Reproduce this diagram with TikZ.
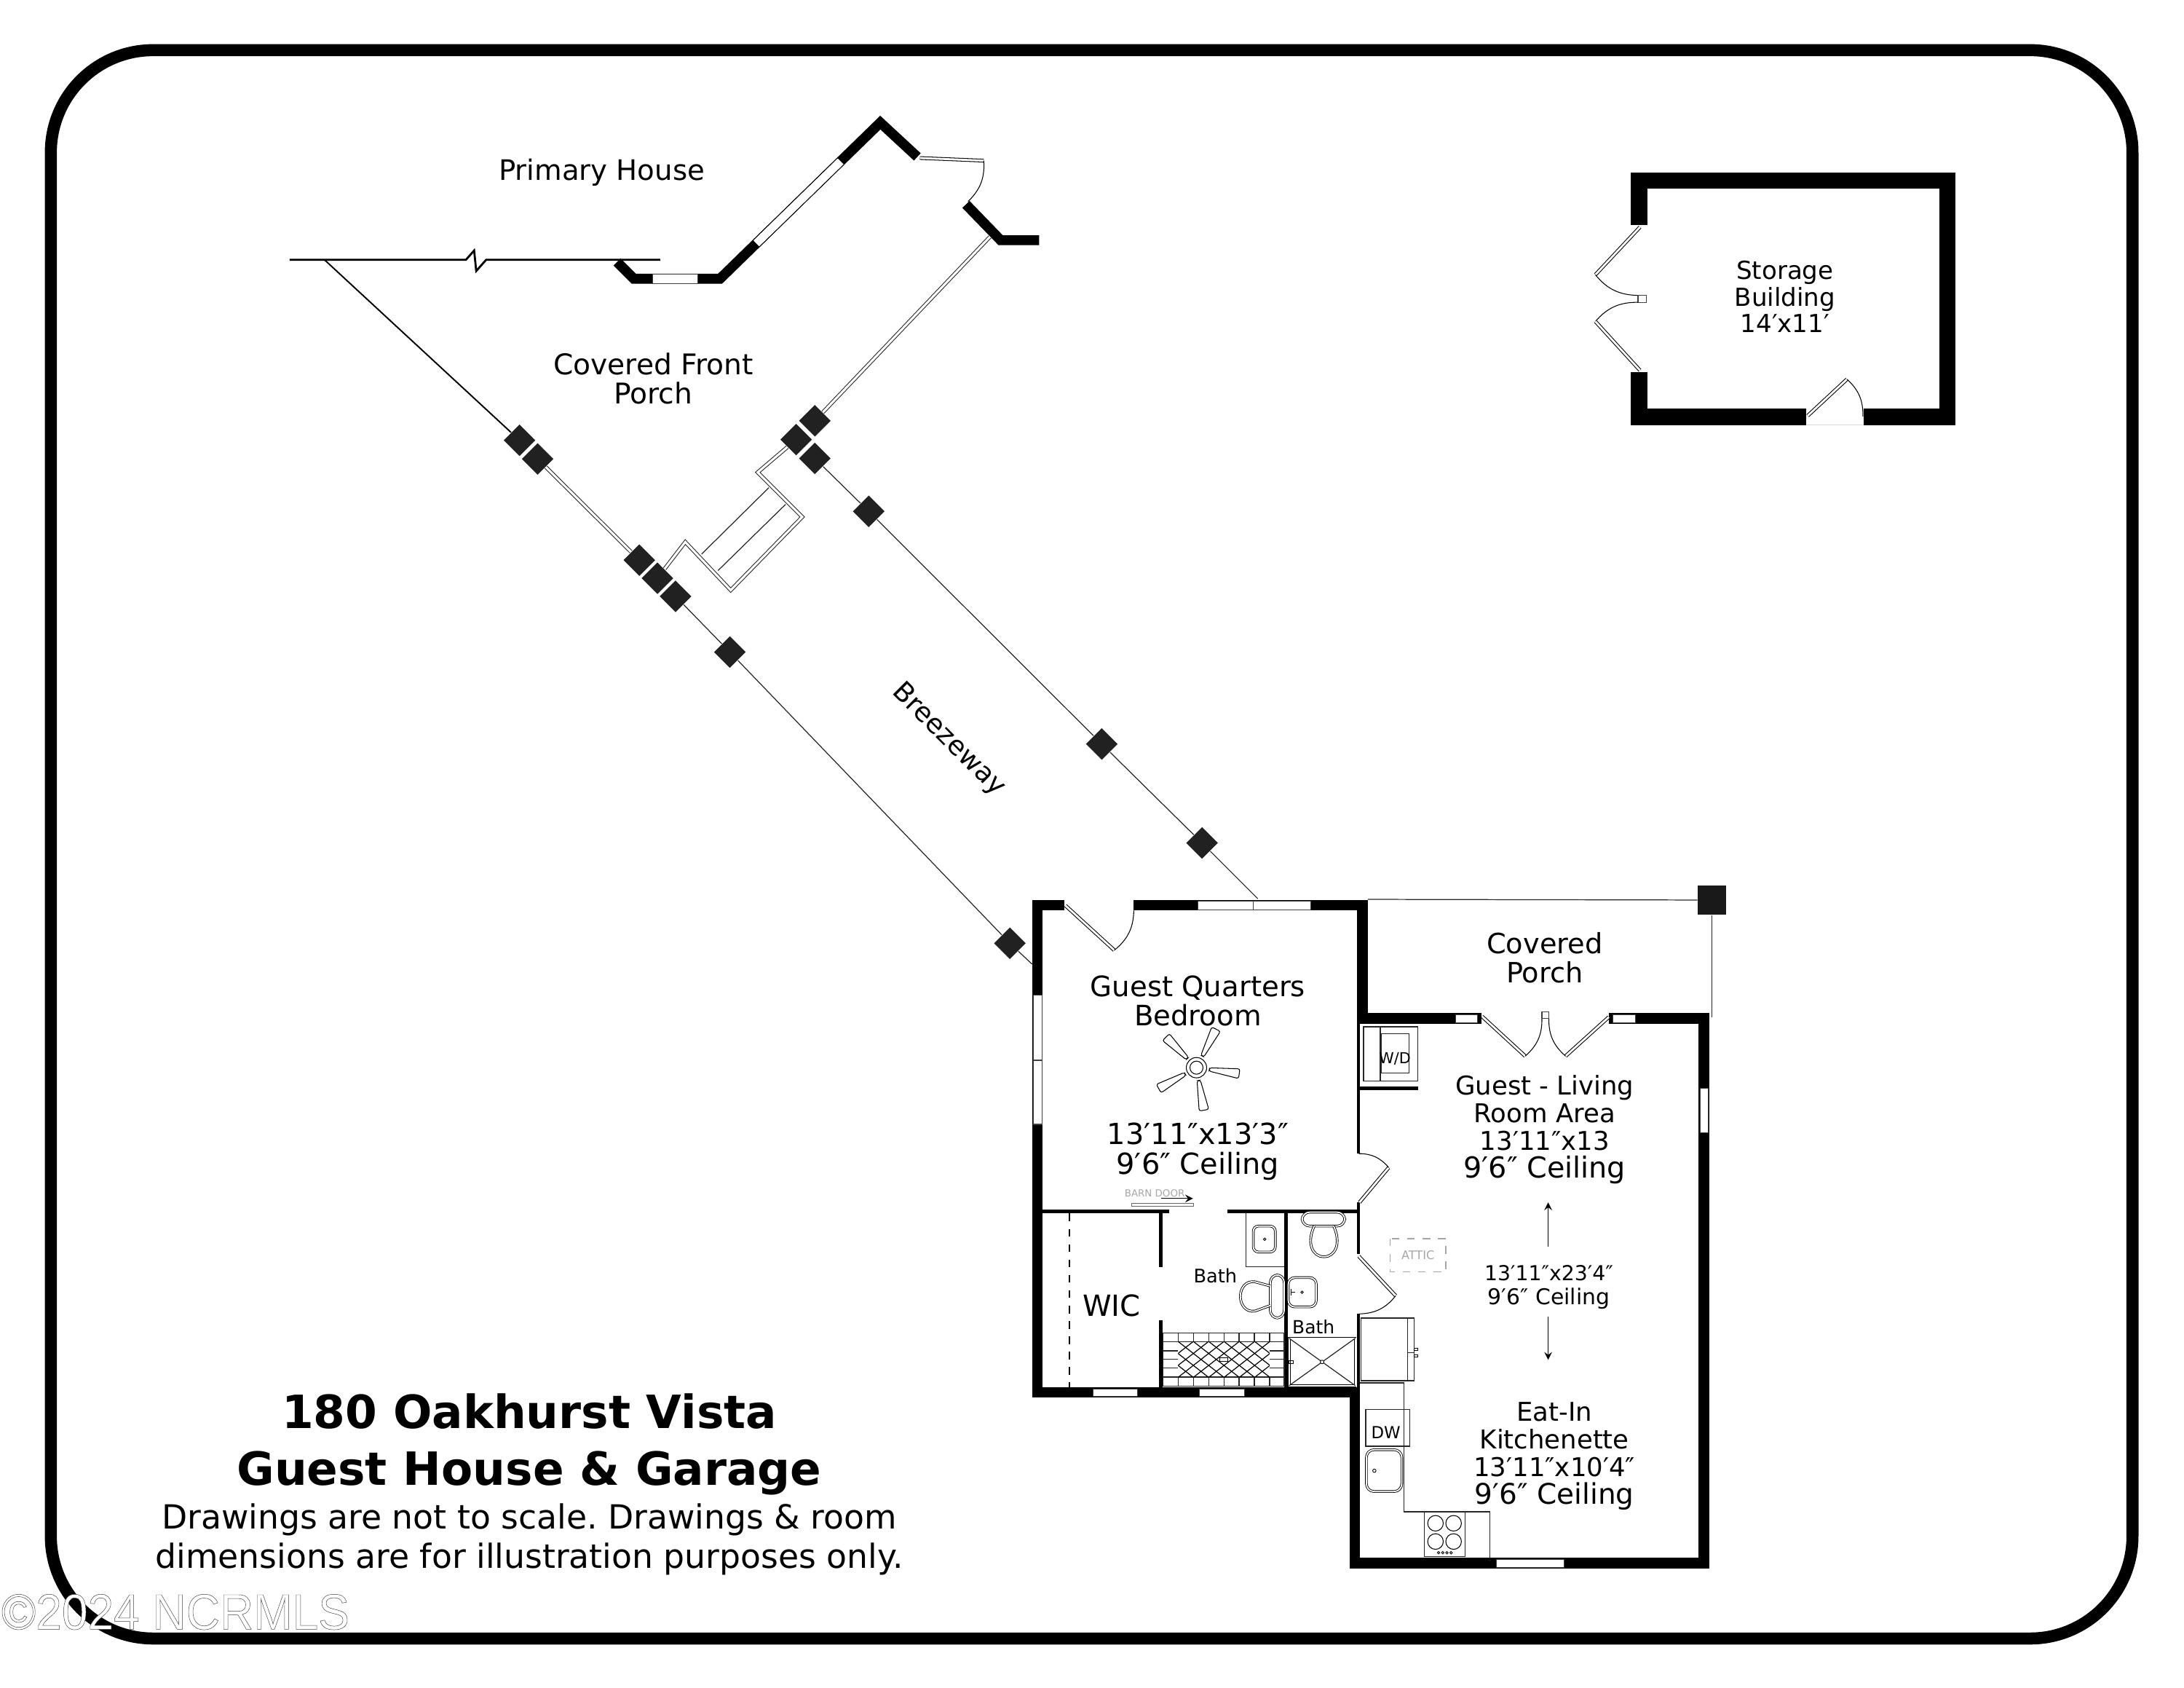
\documentclass[tikz,border=0pt]{standalone}
\usepackage{fontspec}
\setmainfont{DejaVu Sans}
\usetikzlibrary{shapes.geometric,arrows}
\newcommand{\fsz}[2]{\fontsize{#1}{#2}\selectfont}
\newcommand{\outlined}[1]{\textcolor{white}{\special{pdf:code 2 Tr 0.14 w 0.25 G}#1\special{pdf:code 0 Tr}}}
\newfontfamily\markfont{Liberation Sans}
\frenchspacing
\tikzset{
	wall/.style = {fill=black},
	win/.style = {draw=black!75, fill=white, line width=.3pt},
	wline/.style = {draw=black, double=white, line width=.3pt, double distance=3.2pt},
	leaf/.style = {draw=black, double=white, line width=.3pt, double distance=.8pt},
	swing/.style = {draw=black, line width=.3pt},
	rail/.style = {draw=black!85, double=white, line width=.3pt, double distance=.9pt},
	thinline/.style = {draw=black!85, line width=.35pt},
	fixture/.style = {draw=black, double=white, line width=.25pt, double distance=.5pt},
	post/.style = {diamond, fill=black!87, inner sep=0pt, minimum size=12.5pt},
	room/.style = {align=center, inner sep=0pt, font=\fsz{11}{11.4}},
}
\begin{document}
\begin{tikzpicture}[x=0.019133cm, y=-0.019133cm]
\useasboundingbox (0,0) rectangle (1568,1211.5);
\draw[line width=4.7pt, rounded corners=40pt] (36.5,36) rectangle (1531,1176);

% primary house and front porch
\coordinate (top start) at (208,186.5);
\coordinate (top end)   at (474,186.5);
\coordinate (porch l)   at (233,186.5);
\coordinate (wall r)    at (710.7,170);
\draw[line width=.8pt] (top start) -- (334.5,186.5) -- (340.4,179.8) -- (341.9,194.5) -- (349,186.5) -- (top end);
\draw[line width=3.9pt, miter limit=20] (443,188) -- (455,200) -- (517,200) -- (632,88) -- (658.6,112.6);
\draw[line width=3.9pt, miter limit=20] (693.5,146.7) -- (718.4,172.4) -- (746,172.4);
\draw[win] (468.5,196.6) rectangle (501,203.4);
\draw[wline] (543,174.7) -- (603.5,115.8);
\draw[leaf] (660.4,113.4) -- (706.3,115.3);
\draw[swing] (706.3,115.3) to[bend left=25] (695,144.6);

\node[post] (pa) at (373,316) {};
\node[post] (pb) at (386,329.4) {};
\node[post] (pc) at (459,402) {};
\node[post] (pd) at (472,415) {};
\node[post] (pe) at (485,428) {};
\node[post] (pf) at (524,468) {};
\node[post] (pg) at (725,677) {};
\node[post] (ph) at (585,302) {};
\node[post] (pi) at (571.6,315.5) {};
\node[post] (pj) at (585,329) {};
\node[post] (pk) at (623.7,367) {};
\node[post] (pl) at (791,534) {};
\node[post] (pm) at (863,605) {};

\draw[line width=.55pt] (porch l) -- (pa);
\draw[rail] (pb) -- (pc);
\draw[rail] (wall r) -- (ph);
\draw[thinline] (pe) -- (pf);
\draw[thinline] (pf) -- (pg);
\draw[thinline] (pg) -- (741,692);
\draw[thinline] (pj) -- (pk);
\draw[thinline] (pk) -- (pl);
\draw[thinline] (pl) -- (pm);
\draw[thinline] (pm) -- (903,645);
% steps off the porch
\draw[rail] (pi) -- (544,339) -- (576,371) -- (524.6,423.6) -- (492,389) -- (pd);
\draw[thinline] (552,350) -- (503.7,397.7);
\draw[thinline] (564,362) -- (515.5,409.5);

% guest house walls
\fill[wall] (741,646) rectangle (748.6,1003);
\fill[wall] (741,646) rectangle (764,653.5);
\fill[wall] (814,646) rectangle (982,653.5);
\fill[wall] (974,646) rectangle (982,735);
\fill[wall] (974,727) rectangle (1063.6,735);
\fill[wall] (1155,727) rectangle (1227,735);
\fill[wall] (1219.6,727) rectangle (1227,1126);
\fill[wall] (969,1118) rectangle (1227,1126);
\fill[wall] (969,995.5) rectangle (976.5,1126);
\fill[wall] (741,995.5) rectangle (976.5,1003);
\fill[wall] (974,735) rectangle (976.5,828);
\fill[wall] (974,863) rectangle (976.5,900);
\fill[wall] (974,943) rectangle (976.5,1003);
\fill[wall] (748.6,868) rectangle (839.5,871);
\fill[wall] (881,868) rectangle (976,871);
\fill[wall] (832,869) rectangle (834.7,909.5);
\fill[wall] (832,947.5) rectangle (834.7,996);
\fill[wall] (922,869) rectangle (924.7,996);
\fill[wall] (976,780) rectangle (1018,782.5);
% windows
\draw[win] (860,647) rectangle (941,653);
\draw[win] (900,647) -- (900,653);
\draw[win] (742,714) rectangle (748,807);
\draw[win] (742,761) -- (748,761);
\draw[win] (1045,728.5) rectangle (1060.6,734);
\draw[win] (1158,728.5) rectangle (1174,734);
\draw[win] (1220.5,781) rectangle (1226.5,813);
\draw[win] (784.6,997) rectangle (816.8,1002);
\draw[win] (861,997) rectangle (893.7,1002);
\draw[win] (1074.2,1119.5) rectangle (1122.8,1125);
% doors
\draw[leaf] (765,650) -- (800,682);
\draw[swing] (800,682) to[bend right=25] (814,653.5);
\draw[leaf] (976,863) -- (997,838);
\draw[swing] (997,838) to[bend right=25] (975.5,828);
\draw[leaf] (975.5,901.6) -- (1002,930);
\draw[swing] (1002,930) to[bend left=25] (976,943);
\draw[leaf] (1064,729.5) -- (1095,758);
\draw[swing] (1095,758) to[bend right=25] (1107,731);
\draw[leaf] (1155,730) -- (1124,758);
\draw[swing] (1124,758) to[bend left=25] (1112,731);
\draw[win] (1107,726) rectangle (1112,731);

% covered porch
\node[fill=black!90, inner sep=0pt, minimum width=10.9pt, minimum height=11.4pt] (corner post) at (1229,646) {};
\coordinate (porch a) at (982,645.5);
\coordinate (porch b) at (1229,730);
\draw[thinline] (porch a) -- (corner post);
\draw[thinline] (corner post) -- (porch b);

% ceiling fan
\draw[line width=.3pt] (859,766.3) circle (7.3);
\draw[line width=.3pt] (859,766.3) circle (4.7);
\foreach \a in {63,135,209,280,352}{
	\draw[line width=.3pt, fill=white, rounded corners=.8pt, rotate around={\a:(859,766.3)}] (868.3,765.1) -- (890,762.8) -- (890,769.8) -- (868.3,767.5) -- cycle;
}

% closet and barn door
\draw[line width=.6pt, dashed] (768,871) -- (768,995.5);
\node[text=black!35, inner sep=0pt, font=\fsz{3.8}{4}] (barn) at (829,856.5) {BARN DOOR};
\draw[draw=black!60, fill=white, line width=.3pt] (812.7,863.6) rectangle (857,865.7);
\draw[-stealth, line width=.35pt] (833.8,860.2) -- (856.5,860.2);

% left bath
\draw[thinline] (894.6,870) -- (894.6,909) -- (922,909);
\draw[fixture, rounded corners=2pt] (899.8,880) rectangle (915.6,898.6);
\draw[line width=.25pt] (908,889.4) circle (.9);
\draw[fixture, rounded corners=3pt] (912,915) rectangle (922,946);
\draw[fixture] (912,923) -- (901,920) .. controls (894,919) and (890.5,925) .. (890.5,930.4) .. controls (890.5,936) and (894,942) .. (901,941) -- (912,937);
% tiled bench
\draw[thinline] (834.8,956.7) rectangle (922,995);
\foreach \y in {963,969.5,975.7,982,988.4}{
	\draw[thinline] (834.8,\y) -- (845.8,\y);
	\draw[thinline] (911.5,\y) -- (922,\y);
}
\draw[thinline] (834.8,963) -- (922,963);
\draw[thinline] (834.8,988.4) -- (922,988.4);
\foreach \x in {845.8,856.8,867.8,878.7,889.6,900.5,911.5}{
	\draw[thinline] (\x,956.7) -- (\x,963);
	\draw[thinline] (\x,988.4) -- (\x,995);
}
\begin{scope}
	\clip (845.8,963) rectangle (911.5,988.4);
	\foreach \x in {813,824,...,912}{
		\draw[line width=.35pt] (\x,963) -- ++(32.5,25.4);
		\draw[line width=.35pt] (\x+32.5,963) -- ++(-32.5,25.4);
	}
\end{scope}
\draw[draw=black, fill=white, line width=.25pt] (875.9,974.4) rectangle (881.6,977);

% right bath
\draw[fixture, rounded corners=3pt] (934.8,870) rectangle (965.5,880);
\draw[fixture] (943.5,880) .. controls (938,892) and (942,902) .. (950.5,902) .. controls (959,902) and (963,892) .. (957.5,880);
\draw[fixture, rounded corners=2.5pt] (924.9,917) rectangle (945,938);
\draw[line width=.25pt] (934.8,927.5) circle (.9);
\draw[line width=.5pt] (926.5,927.5) -- (930,927.5);
\draw[line width=.5pt] (927,925) -- (927,930);
\draw[fixture] (925.5,960.5) rectangle (973,994.5);
\draw[thinline] (925.5,960.5) -- (973,994.5);
\draw[thinline] (925.5,994.5) -- (973,960.5);
\draw[fill=white, line width=.25pt] (949.2,977.5) circle (1.3);
\draw[line width=.25pt] (925.6,976.6) rectangle (928.3,978.7);

% laundry
\draw[thinline] (979,737) rectangle (1018,776);
\draw[thinline] (991,737) -- (991,776);
\draw[thinline] (991.5,742) rectangle (1011.5,770);

% kitchen
\draw[thinline] (977,946) rectangle (1015.4,991);
\draw[thinline] (1010.7,946) -- (1010.7,991);
\draw[thinline] (1010.7,970.8) -- (1015.4,970.8);
\draw[line width=.25pt] (1015.4,967.8) rectangle (1018,969.4);
\draw[line width=.25pt] (1015.4,972.4) rectangle (1018,974);
\draw[thinline] (976.5,992.5) -- (1008,992.5) -- (1008,1085) -- (1069.5,1085) -- (1069.5,1118);
\draw[thinline] (980.5,1011.7) rectangle (1012,1038);
\draw[fixture, rounded corners=3pt] (981,1040.5) rectangle (1006.4,1070.5);
\draw[line width=.25pt] (986.7,1055.6) circle (1.2);
\draw[thinline] (1022.7,1085.3) rectangle (1052,1117);
\foreach \x in {1030.6,1043.6}\foreach \y in {1093.3,1106.4}{
	\draw[line width=.3pt] (\x,\y) circle (5.6);
}
\foreach \x in {1032.8,1035.8,1038.8,1041.8}{
	\draw[line width=.25pt] (\x,1114.4) circle (.9);
}

% attic and the ceiling arrows
\draw[black!35, dashed, line width=.35pt] (998,889) rectangle (1038,913);
\node[text=black!35, inner sep=0pt, font=\fsz{4.6}{5}] (attic) at (1018,901) {ATTIC};
\node[room, font=\fsz{8.05}{9.3}] (dims) at (1112,924) {13′11″x23′4″\\{\fsz{8.5}{9.3}9′6″ Ceiling}};
\draw[-stealth, line width=.35pt] (1111.5,895) -- (1111.5,863);
\draw[-stealth, line width=.35pt] (1111.5,945) -- (1111.5,976);

% storage building
\fill[wall] (1171,124) rectangle (1404,135.5);
\fill[wall] (1171,124) rectangle (1182.6,161.5);
\fill[wall] (1171,267) rectangle (1182.6,305);
\fill[wall] (1392.4,124) rectangle (1404,305);
\fill[wall] (1171,293) rectangle (1296.6,305);
\fill[wall] (1338,293) rectangle (1404,305);
\draw[black!15, line width=.3pt] (1296.6,305) -- (1338,305);
\draw[leaf] (1297.8,298.4) -- (1326,272.2);
\draw[swing] (1326,272.2) to[bend left=25] (1337.4,299);
\draw[leaf] (1177.4,163) -- (1145.4,197.2);
\draw[swing] (1145.4,197.2) to[bend right=25] (1176,212);
\draw[win] (1176,212) rectangle (1182,217);
\draw[swing] (1176,217) to[bend right=25] (1145.4,230.7);
\draw[leaf] (1145.4,230.7) -- (1177.4,265.8);

% labels
\node[room, font=\fsz{11}{12}] (primary) at (432,124) {Primary House};
\node[room, font=\fsz{11.15}{11.4}] (front porch) at (469,271.5) {Covered Front\\Porch};
\node[room, rotate=-45, font=\fsz{10.5}{12}] (breezeway) at (681,531) {Breezeway};
\node[room, font=\fsz{9.7}{10.4}] (storage) at (1281.5,213) {Storage\\Building\\14′x11′};
\node[room, font=\fsz{10.9}{11.4}] (cov porch) at (1109,687.5) {Covered\\Porch};
\node[room] (bedroom) at (860,718.5) {Guest Quarters\\Bedroom};
\node[room, font=\fsz{11.35}{11.9}] (bed size) at (860,826.5) {13′11″x13′3″\\9′6″ Ceiling};
\node[room, font=\fsz{10.1}{10.8}] (living) at (1109,810.5) {Guest - Living\\Room Area\\13′11″x13\\{\fsz{11.3}{11.9}9′6″ Ceiling}};
\node[room, font=\fsz{10.1}{10.8}] (kitchen) at (1116,1045) {Eat-In\\Kitchenette\\13′11″x10′4″\\{\fsz{11.1}{11.9}9′6″ Ceiling}};
\node[room, font=\fsz{11.4}{12}] (wic) at (798,937) {WIC};
\node[room, font=\fsz{7.3}{8}] (bath a) at (872.5,915.5) {Bath};
\node[room, font=\fsz{7.1}{8}] (bath b) at (943,952.5) {Bath};
\node[room, font=\fsz{5.9}{7}] (wd) at (1001.5,760) {W/D};
\node[room, font=\fsz{6.5}{7}] (dw) at (995,1028) {DW};
\node[room, font=\bfseries\fsz{17.9}{22.2}] (title) at (380,1036.5) {180 Oakhurst Vista\\Guest House \& Garage};
\node[room, font=\fsz{13}{15.3}] (note) at (380,1105) {Drawings are not to scale. Drawings \& room\\dimensions are for illustration purposes only.};
\node[inner sep=0pt, font=\markfont\fsz{19.6}{20}, xscale=.93] (mark) at (126,1157) {\outlined{©2024 NCRMLS}};
\end{tikzpicture}
\end{document}
